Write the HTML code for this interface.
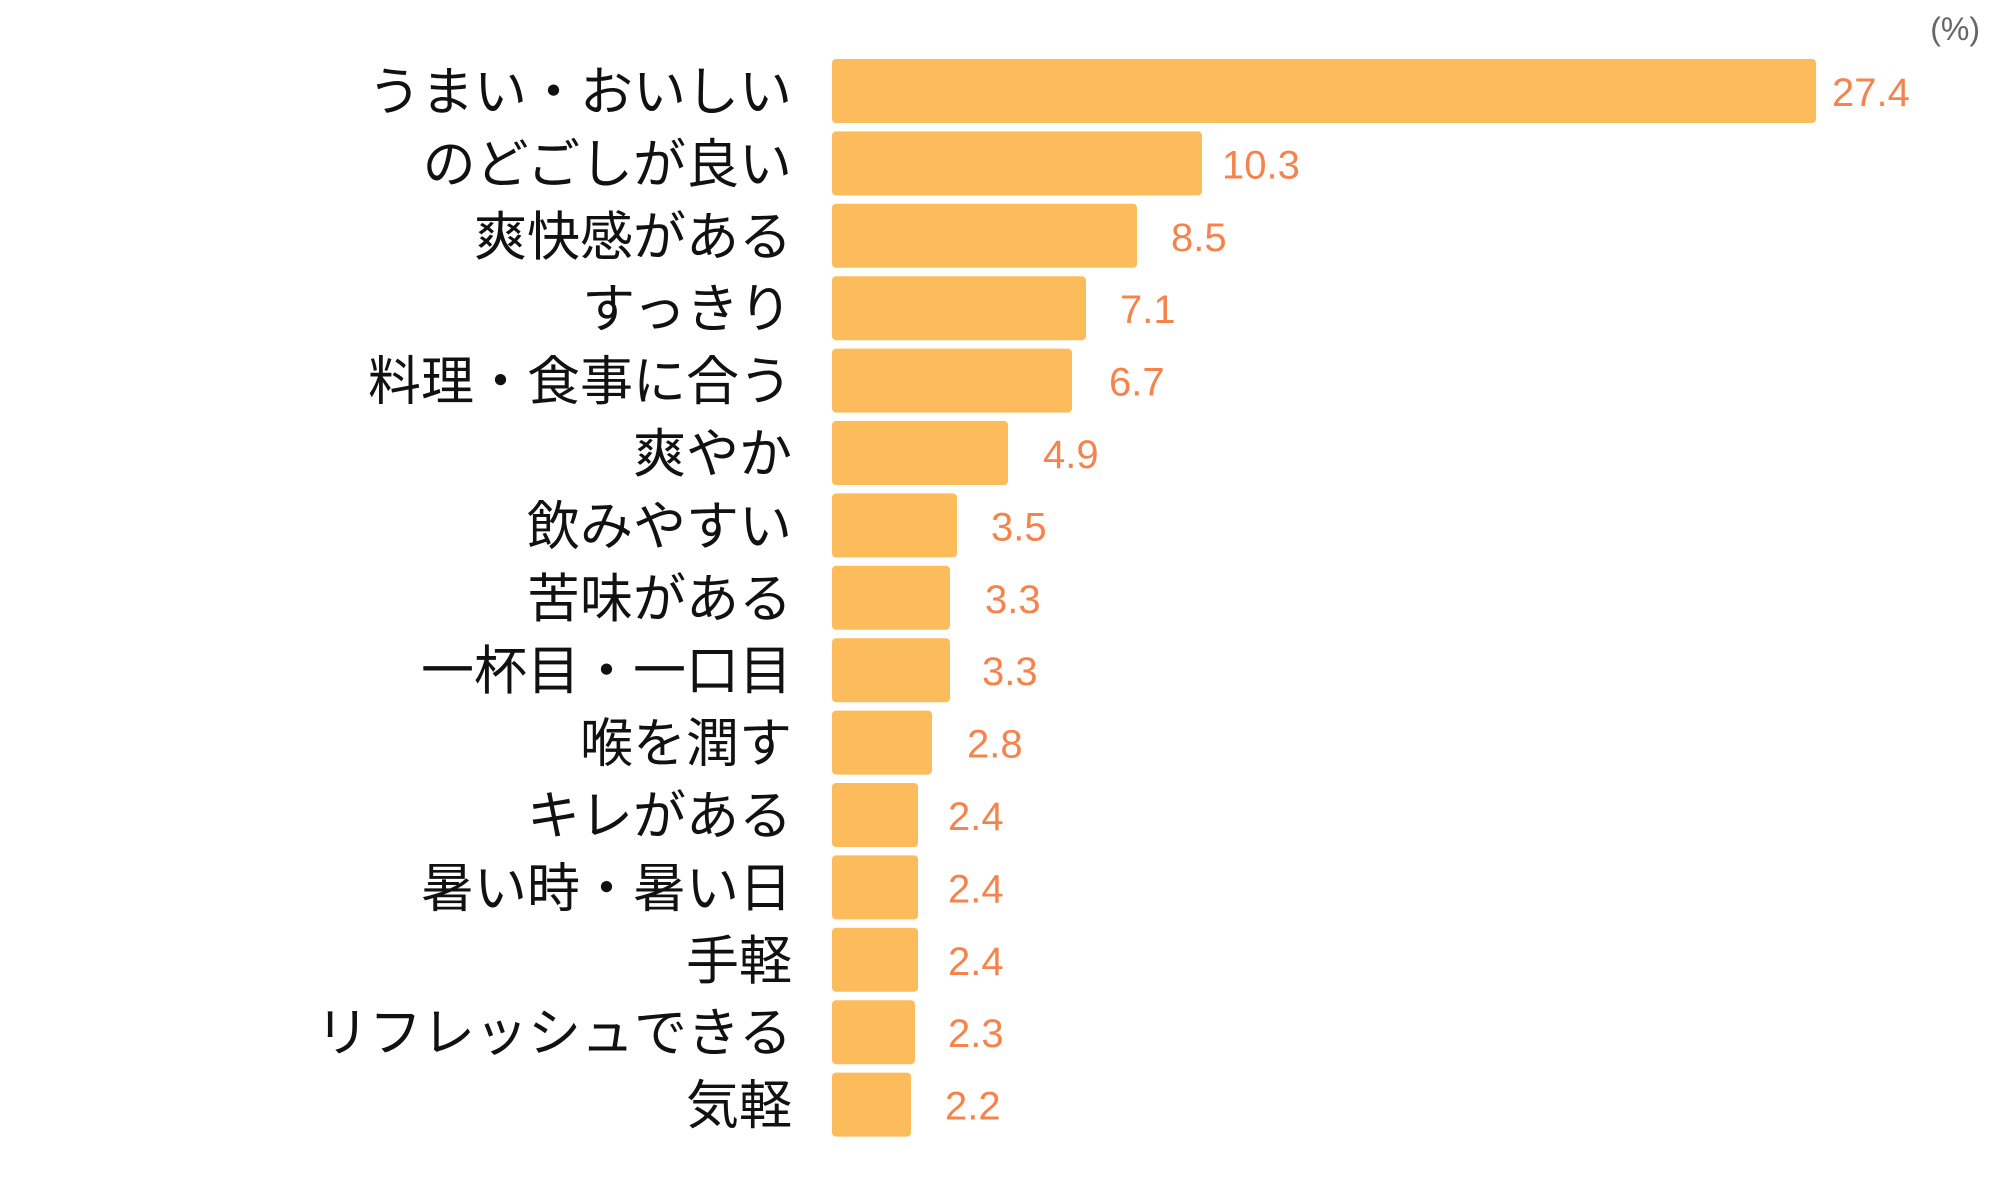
<!DOCTYPE html>
<html><head><meta charset="utf-8"><style>
html,body{margin:0;padding:0;background:#fff;}
svg{display:block}
.l{font-family:"Liberation Sans","Noto Sans CJK JP",sans-serif;font-size:53px;fill:#111;text-anchor:end}
.v{font-family:"Liberation Sans","Noto Sans CJK JP",sans-serif;font-size:40px;fill:#F5844C}
</style></head><body>
<svg width="2000" height="1200" viewBox="0 0 2000 1200">
<text x="1980" y="40" font-family="Liberation Sans, sans-serif" font-size="32" fill="#666" text-anchor="end">(%)</text>
<g fill="#FDBC5C">
<rect x="832" y="59" width="984" height="64" rx="4"/>
<rect x="832" y="131.4" width="370" height="64" rx="4"/>
<rect x="832" y="203.8" width="305" height="64" rx="4"/>
<rect x="832" y="276.2" width="254" height="64" rx="4"/>
<rect x="832" y="348.6" width="240" height="64" rx="4"/>
<rect x="832" y="421" width="176" height="64" rx="4"/>
<rect x="832" y="493.4" width="125" height="64" rx="4"/>
<rect x="832" y="565.8" width="118" height="64" rx="4"/>
<rect x="832" y="638.2" width="118" height="64" rx="4"/>
<rect x="832" y="710.6" width="100" height="64" rx="4"/>
<rect x="832" y="783" width="86" height="64" rx="4"/>
<rect x="832" y="855.4" width="86" height="64" rx="4"/>
<rect x="832" y="927.8" width="86" height="64" rx="4"/>
<rect x="832" y="1000.2" width="83" height="64" rx="4"/>
<rect x="832" y="1072.6" width="79" height="64" rx="4"/>
</g>
<g class="l">
<text x="792" y="110">うまい・おいしい</text>
<text x="792" y="182.4">のどごしが良い</text>
<text x="792" y="254.8">爽快感がある</text>
<text x="792" y="327.2">すっきり</text>
<text x="792" y="399.6">料理・食事に合う</text>
<text x="792" y="472">爽やか</text>
<text x="792" y="544.4">飲みやすい</text>
<text x="792" y="616.8">苦味がある</text>
<text x="792" y="689.2">一杯目・一口目</text>
<text x="792" y="761.6">喉を潤す</text>
<text x="792" y="834">キレがある</text>
<text x="792" y="906.4">暑い時・暑い日</text>
<text x="792" y="978.8">手軽</text>
<text x="792" y="1051.2">リフレッシュできる</text>
<text x="792" y="1123.6">気軽</text>
</g>
<g class="v">
<text x="1832" y="106">27.4</text>
<text x="1222" y="178.4">10.3</text>
<text x="1171" y="250.8">8.5</text>
<text x="1120" y="323.2">7.1</text>
<text x="1109" y="395.6">6.7</text>
<text x="1043" y="468">4.9</text>
<text x="991" y="540.4">3.5</text>
<text x="985" y="612.8">3.3</text>
<text x="982" y="685.2">3.3</text>
<text x="967" y="757.6">2.8</text>
<text x="948" y="830">2.4</text>
<text x="948" y="902.4">2.4</text>
<text x="948" y="974.8">2.4</text>
<text x="948" y="1047.2">2.3</text>
<text x="945" y="1119.6">2.2</text>
</g>
</svg>
</body></html>
